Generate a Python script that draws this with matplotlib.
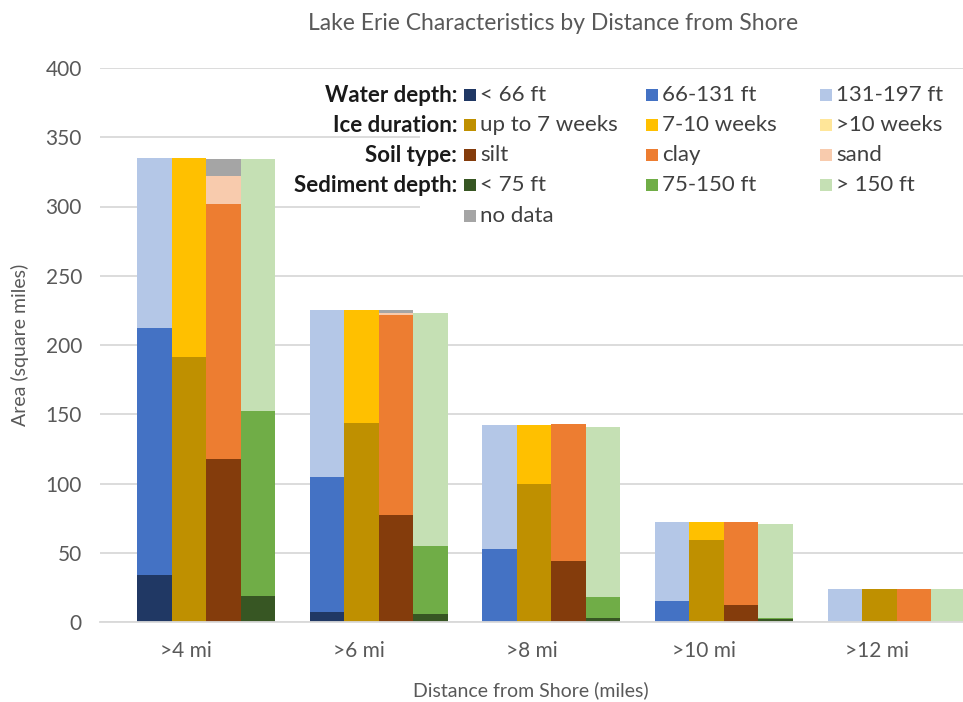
import numpy as np
import matplotlib.pyplot as plt
from matplotlib.patches import Rectangle

plt.rcParams['font.family'] = ['Lato', 'DejaVu Sans']

categories = ['>4 mi', '>6 mi', '>8 mi', '>10 mi', '>12 mi']

# stacked segment heights, square miles, bottom to top
water_lt66 = [34, 7, 0, 0, 0]
water_66_131 = [178, 98, 53, 15, 0]
water_131_197 = [123, 120, 89, 57, 24]

ice_upto7 = [191, 144, 100, 59, 24]
ice_7_10 = [144, 81, 42, 13, 0]
ice_gt10 = [0, 0, 0, 0, 0]

soil_silt = [118, 77, 44, 12, 0]
soil_clay = [184, 145, 99, 60, 24]
soil_sand = [20, 1, 0, 0, 0]
soil_nodata = [12, 2, 0, 0, 0]

sed_lt75 = [19, 6, 3, 2, 0]
sed_75_150 = [133, 49, 15, 1, 0]
sed_gt150 = [182, 168, 123, 68, 24]

group_names = ['Water depth:', 'Ice duration:', 'Soil type:', 'Sediment depth:']
groups = [
    [('< 66 ft', water_lt66, '#203864'),
     ('66-131 ft', water_66_131, '#4472C4'),
     ('131-197 ft', water_131_197, '#B4C7E7')],
    [('up to 7 weeks', ice_upto7, '#BF9000'),
     ('7-10 weeks', ice_7_10, '#FFC000'),
     ('>10 weeks', ice_gt10, '#FFE699')],
    [('silt', soil_silt, '#843C0C'),
     ('clay', soil_clay, '#ED7D31'),
     ('sand', soil_sand, '#F8CBAD'),
     ('no data', soil_nodata, '#A5A5A5')],
    [('< 75 ft', sed_lt75, '#375623'),
     ('75-150 ft', sed_75_150, '#70AD47'),
     ('> 150 ft', sed_gt150, '#C5E0B4')],
]

W, H = 963, 702
fig = plt.figure(figsize=(W / 100, H / 100), dpi=100)
ax = fig.add_axes([100 / W, 80 / H, 863 / W, 554 / H])

x = np.arange(len(categories))
width = 0.2
shift = 0.115
for k, group in enumerate(groups):
    pos = x + shift + (k - 1.5) * width
    bottom = np.zeros(len(categories))
    for label, vals, color in group:
        ax.bar(pos, vals, width, bottom=bottom, color=color, linewidth=0, zorder=2)
        bottom += np.array(vals)

ax.set_xlim(-0.5, 4.5)
ax.set_ylim(0, 400)
ax.set_yticks(range(0, 401, 50))
ax.set_xticks(x)
ax.set_xticklabels(categories)
ax.yaxis.grid(True, color='#D9D9D9', linewidth=1.3)
ax.set_axisbelow(True)
for side in ['top', 'right', 'left']:
    ax.spines[side].set_visible(False)
ax.spines['bottom'].set_color('#D9D9D9')
ax.spines['bottom'].set_linewidth(1.3)
ax.tick_params(axis='both', length=0, labelsize=15, colors='#595959')
ax.tick_params(axis='x', pad=14)
ax.tick_params(axis='y', pad=13)

fig.text(553 / W, 1 - 23 / H, 'Lake Erie Characteristics by Distance from Shore',
         ha='center', va='center', fontsize=16.5, color='#595959')
fig.text(20 / W, 1 - 345 / H, 'Area (square miles)', rotation=90,
         ha='center', va='center', fontsize=14, color='#595959')
fig.text(531 / W, 1 - 690 / H, 'Distance from Shore (miles)',
         ha='center', va='center', fontsize=14, color='#595959')

# legend block: white backing hides the gridlines behind it
fig.add_artist(Rectangle((420 / W, 1 - 232 / H), 543 / W, 152 / H,
                         transform=fig.transFigure, facecolor='white',
                         edgecolor='none', zorder=1))
row_y = [95, 125, 155, 185, 216]
col_x = [464, 646, 820]
box = 12
entries = []
for r, group in enumerate(groups):
    fig.text(457 / W, 1 - row_y[r] / H, group_names[r],
             ha='right', va='center', fontsize=16, fontweight='bold',
             color='#1a1a1a', zorder=3)
    for c, (label, vals, color) in enumerate(group):
        rr, cc = (r, c) if c < 3 else (4, 0)
        entries.append((rr, cc, label, color))
for rr, cc, label, color in entries:
    fig.add_artist(Rectangle((col_x[cc] / W, 1 - (row_y[rr] + box / 2) / H),
                             box / W, box / H, transform=fig.transFigure,
                             facecolor=color, edgecolor='none', zorder=2))
    fig.text((col_x[cc] + box + 4) / W, 1 - row_y[rr] / H, label,
             ha='left', va='center', fontsize=16, color='#404040', zorder=3)

fig.savefig('out.png', dpi=100)
